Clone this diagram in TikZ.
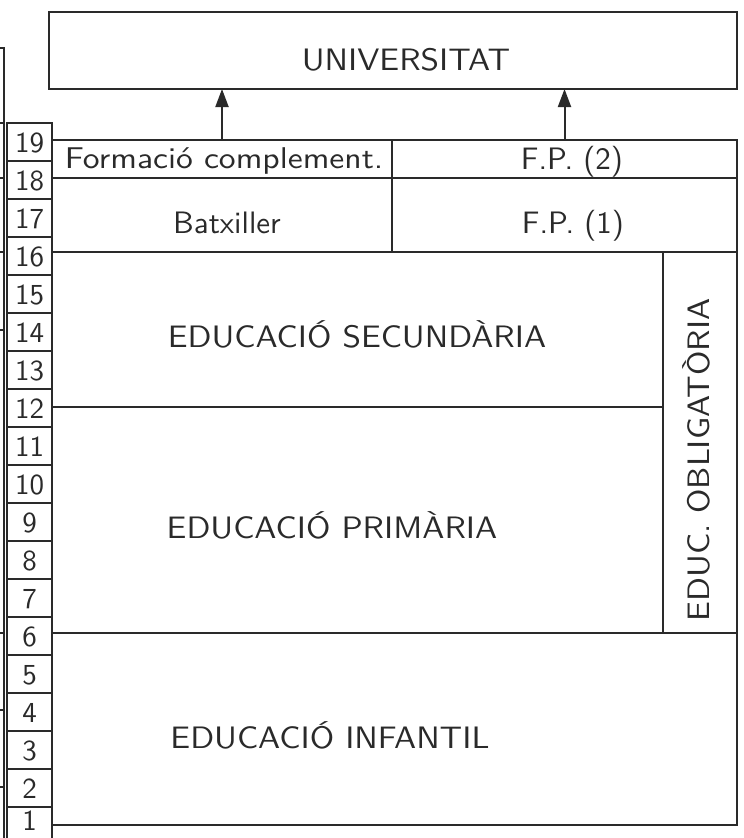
\documentclass[tikz,border=0pt]{standalone}
\usepackage{fontspec}
\usetikzlibrary{arrows.meta,fit}
\definecolor{ink}{HTML}{2A2A2A}
\newfontfamily\widesf[FakeStretch=1.07]{lmsans10-regular.otf}
\newfontfamily\widersf[FakeStretch=1.12]{lmsans10-regular.otf}
\newfontfamily\plainsf{lmsans10-regular.otf}
\begin{document}
\begin{tikzpicture}[x=1pt,y=-1pt,
  cell/.style={draw=ink, line width=1.8pt, inner sep=0pt, outer sep=0pt, rectangle},
  numcell/.style={cell, minimum width=45, minimum height=38},
  numlbl/.style={font=\fontsize{29}{29}\plainsf, text=ink, inner sep=0pt},
  lbl/.style={font=\fontsize{31}{31}\widesf, text=ink, inner sep=0pt, anchor=base},
  lbln/.style={font=\fontsize{31}{31}\plainsf, text=ink, inner sep=0pt, anchor=base},
  vlbl/.style={font=\fontsize{31}{31}\widesf, text=ink, inner sep=0pt, rotate=90},
  edge/.style={draw=ink, line width=1.8pt},
  up/.style={draw=ink, line width=2pt, -{Triangle[length=18pt,width=13pt]}}]
\useasboundingbox (0,0) rectangle (744,838);
\clip (0,0) rectangle (744,838);
\fill[white] (0,0) rectangle (744,838);

% outer left line with ticks
\coordinate (ot) at (0,48);
\coordinate (oc) at (4,48);
\coordinate (ob) at (4,838);
\draw[edge] (ot) -- (oc) -- (ob);
\foreach \t in {123,178,252,330,633,710,787}{
  \coordinate (tl\t) at (0,\t);
  \coordinate (tr\t) at (5,\t);
  \draw[edge] (tl\t) -- (tr\t);
}

% age column
\foreach \k in {1,...,19}{
  \pgfmathsetmacro\yc{123+(19-\k)*38+19}
  \node[numcell] (n\k) at (29.5,\yc) {};
}
\foreach \k in {2,...,19}{
  \node[numlbl] (l\k) at ([yshift=-1pt]n\k.center) {\k};
}
\node[numlbl] (l1) at ([yshift=5pt]n1.center) {1};

% university
\node[cell, fit={(49,12) (737,89)}] (univ) {};
\node[lbl] (tuniv) at (406,70) {UNIVERSITAT};

% upper secondary rows
\node[cell, fit={(52,140) (392,178)}] (form) {};
\node[cell, fit={(392,140) (737,178)}] (fp2) {};
\node[cell, fit={(52,178) (392,252)}] (batx) {};
\node[cell, fit={(392,178) (737,252)}] (fp1) {};
\node[lbl, font=\fontsize{30}{30}\widersf] (tform) at (224,168) {Formació complement.};
\node[lbln] (tfp2) at (572,169) {F.P. (2)};
\node[lbln] (tbatx) at (227,233) {Batxiller};
\node[lbln] (tfp1) at (573,233) {F.P. (1)};

% compulsory education
\node[cell, fit={(52,252) (663,407)}] (sec) {};
\node[cell, fit={(52,407) (663,633)}] (prim) {};
\node[cell, fit={(663,252) (737,633)}] (oblig) {};
\node[lbl] (tsec) at (357,347) {EDUCACIÓ SECUNDÀRIA};
\node[lbl] (tprim) at (332,538) {EDUCACIÓ PRIMÀRIA};
\node[vlbl] (tob) at (696,460) {EDUC. OBLIGATÒRIA};

% infant education
\node[cell, fit={(52,633) (737,825)}] (inf) {};
\node[lbl] (tinf) at (330,748) {EDUCACIÓ INFANTIL};

% arrows to university
\draw[up] (form.north) -- (form.north |- univ.south);
\draw[up] (fp2.north) -- (fp2.north |- univ.south);
\end{tikzpicture}
\end{document}
